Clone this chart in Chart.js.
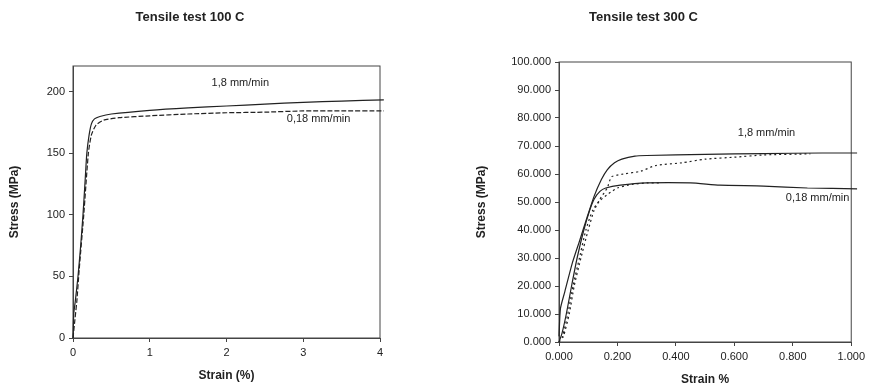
<!DOCTYPE html>
<html>
<head>
<meta charset="utf-8">
<script src="https://cdn.jsdelivr.net/npm/chart.js@4.4.1/dist/chart.umd.min.js"></script>
<style>
  body { margin: 0; background: #fff; }
  #wrap { position: relative; width: 869px; height: 387px; }
  canvas { position: absolute; top: 0; }
</style>
</head>
<body>
<div id="wrap">
  <canvas id="left" width="434" height="387" style="left:0"></canvas>
  <canvas id="right" width="434" height="387" style="left:435px"></canvas>
</div>
<script>
// Tensile test 100 C  (strain %, stress MPa)
const fastStrain100 = [0, 0.01, 0.03, 0.065, 0.1, 0.13, 0.16, 0.18, 0.21, 0.24, 0.28, 0.35, 0.5, 1, 1.5, 2, 2.5, 3, 3.5, 4.05];
const fastStress100 = [0, 20, 30, 50, 75, 100, 130, 150, 165, 174, 178, 180, 182, 185, 187, 188.5, 190, 191.5, 192.5, 193.5];
const slowStrain100 = [0, 0.02, 0.05, 0.08, 0.14, 0.2, 0.24, 0.3, 0.4, 0.6, 1, 1.5, 2, 2.5, 3, 3.5, 4.05];
const slowStress100 = [0, 12, 30, 55, 100, 150, 165, 173, 177, 179, 180.5, 182, 183, 183.5, 184.5, 184.5, 184.5];
const yTicks100 = [0, 50, 100, 150, 200];
const labels100 = ['1,8 mm/min', '0,18 mm/min'];
const labelAt100 = [[2.18, 207], [3.2, 178]];

// Tensile test 300 C
const fastStrainA = [0, 0.005, 0.02, 0.045, 0.07, 0.096, 0.12, 0.145, 0.165, 0.19, 0.215, 0.26, 0.3, 0.5, 0.7, 0.9, 1.02];
const fastStressA = [2, 12, 18, 28, 36, 44.5, 52, 58, 61.5, 64, 65.3, 66.4, 66.6, 67, 67.3, 67.5, 67.5];
const fastStrainB = [0, 0.015, 0.035, 0.052, 0.075, 0.1, 0.12, 0.14, 0.165, 0.18, 0.22, 0.28, 0.33, 0.42, 0.5, 0.6, 0.7, 0.86];
const fastStressB = [0, 2, 10, 20, 30, 40, 47, 51, 55, 59, 60, 61, 63, 64, 65.3, 66, 66.8, 67.2];
const slowStrainA = [0, 0.01, 0.025, 0.043, 0.062, 0.085, 0.105, 0.12, 0.14, 0.16, 0.21, 0.3, 0.45, 0.55, 0.7, 0.85, 1.02];
const slowStressA = [0, 3, 10, 20, 30, 40, 47, 51, 53.8, 55, 56, 56.8, 56.8, 56, 55.7, 55, 54.7];
const slowStrainB = [0, 0.012, 0.03, 0.048, 0.07, 0.092, 0.115, 0.14, 0.17, 0.2, 0.25, 0.3, 0.35];
const slowStressB = [0, 2, 10, 20, 30, 40, 47, 50.5, 53, 55, 56.3, 56.8, 56.8];
const labels300 = ['1,8 mm/min', '0,18 mm/min'];
const labelAt300 = [[0.71, 74.6], [0.885, 51.4]];

const FONT = "'Liberation Sans', Arial, sans-serif";
const INK = '#222';

function pts(xs, ys) {
  return xs.map((x, i) => ({ x, y: ys[i] }));
}

function line(xs, ys, dash) {
  return {
    data: pts(xs, ys),
    showLine: true,
    borderColor: INK,
    borderWidth: 1.2,
    borderDash: dash || [],
    pointRadius: 0,
    tension: 0.2,
    clip: false
  };
}

const frame = {
  id: 'frame',
  beforeDatasetsDraw(chart) {
    const a = chart.chartArea;
    const ctx = chart.ctx;
    ctx.save();
    ctx.strokeStyle = '#444';
    ctx.lineWidth = 1;
    ctx.strokeRect(a.left, a.top, a.right - a.left, a.bottom - a.top);
    ctx.restore();
  }
};

function textPlugin(texts, spots) {
  return {
    id: 'curveLabels',
    afterDatasetsDraw(chart) {
      const ctx = chart.ctx;
      ctx.save();
      ctx.font = '11px ' + FONT;
      ctx.fillStyle = INK;
      ctx.textAlign = 'center';
      ctx.textBaseline = 'middle';
      texts.forEach((t, i) => {
        const [x, y] = spots[i];
        ctx.fillText(t, chart.scales.x.getPixelForValue(x), chart.scales.y.getPixelForValue(y));
      });
      ctx.restore();
    }
  };
}

function axisTitle(text, pad) {
  return { display: true, text, color: INK, font: { family: FONT, size: 12, weight: 'bold' }, padding: pad };
}

const tickFont = { family: FONT, size: 11 };

new Chart(document.getElementById('left'), {
  type: 'scatter',
  data: {
    datasets: [
      line(fastStrain100, fastStress100),
      line(slowStrain100, slowStress100, [5, 2])
    ]
  },
  options: {
    responsive: false,
    animation: false,
    layout: { padding: { left: 0, right: 54, top: 0, bottom: 0 } },
    plugins: {
      legend: { display: false },
      tooltip: { enabled: false },
      title: {
        display: true,
        text: 'Tensile test 100 C',
        color: INK,
        font: { family: FONT, size: 13, weight: 'bold' },
        padding: { top: 10, bottom: 40.4 }
      }
    },
    scales: {
      x: {
        type: 'linear',
        min: 0,
        max: 4,
        ticks: { stepSize: 1, color: INK, font: tickFont, padding: 4 },
        grid: { drawOnChartArea: false, tickLength: 4, color: '#444' },
        border: { color: '#444' },
        title: axisTitle('Strain (%)', { top: 0, bottom: 3.8 }),
        afterFit(s) { s.height = 49; }
      },
      y: {
        min: 0,
        max: 221,
        afterBuildTicks(s) { s.ticks = yTicks100.map(v => ({ value: v })); },
        ticks: { color: INK, font: tickFont, padding: 4 },
        grid: { drawOnChartArea: false, tickLength: 4, color: '#444' },
        border: { color: '#444' },
        title: axisTitle('Stress (MPa)', { top: 7.8, bottom: 0 }),
        afterFit(s) { s.width = 73; }
      }
    }
  },
  plugins: [frame, textPlugin(labels100, labelAt100)]
});

new Chart(document.getElementById('right'), {
  type: 'scatter',
  data: {
    datasets: [
      line(fastStrainA, fastStressA),
      line(fastStrainB, fastStressB, [2, 3]),
      line(slowStrainA, slowStressA),
      line(slowStrainB, slowStressB, [2, 3])
    ]
  },
  options: {
    responsive: false,
    animation: false,
    layout: { padding: { left: 0, right: 17, top: 0, bottom: 0 } },
    plugins: {
      legend: { display: false },
      tooltip: { enabled: false },
      title: {
        display: true,
        text: 'Tensile test 300 C',
        color: INK,
        font: { family: FONT, size: 13, weight: 'bold' },
        padding: { top: 10, bottom: 36.4 }
      }
    },
    scales: {
      x: {
        type: 'linear',
        min: 0,
        max: 1,
        ticks: { stepSize: 0.2, color: INK, font: tickFont, padding: 4, callback: v => v.toFixed(3) },
        grid: { drawOnChartArea: false, tickLength: 4, color: '#444' },
        border: { color: '#444' },
        title: axisTitle('Strain %', { top: 0, bottom: 0 }),
        afterFit(s) { s.height = 45; }
      },
      y: {
        min: 0,
        max: 100,
        ticks: { stepSize: 10, color: INK, font: tickFont, padding: 4, callback: v => v.toFixed(3) },
        grid: { drawOnChartArea: false, tickLength: 4, color: '#444' },
        border: { color: '#444' },
        title: axisTitle('Stress (MPa)', { top: 39.8, bottom: 0 }),
        afterFit(s) { s.width = 124; }
      }
    }
  },
  plugins: [frame, textPlugin(labels300, labelAt300)]
});
</script>
</body>
</html>
